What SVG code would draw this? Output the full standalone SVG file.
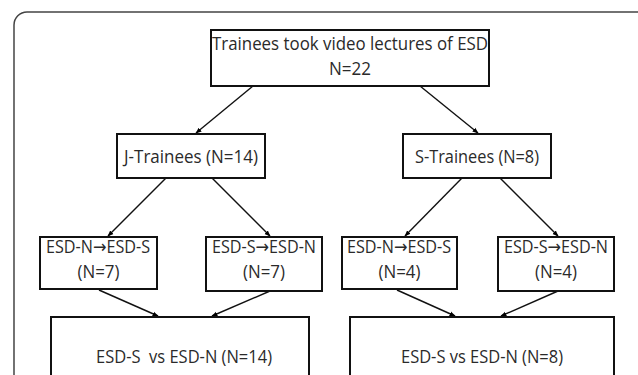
<svg xmlns="http://www.w3.org/2000/svg" width="638" height="375" viewBox="0 0 638 375">
<defs>
<marker id="ah" viewBox="0 0 10 10" refX="9" refY="5" markerWidth="6" markerHeight="6" orient="auto" markerUnits="userSpaceOnUse">
<path d="M0,1 L10,5 L0,9 z" fill="#000"/>
</marker>
<style>
.box{fill:#fff;stroke:#111;stroke-width:2}
.t{font-family:"Open Sans","Noto Sans",sans-serif;font-size:19px;fill:#2a2a2a;text-anchor:middle;white-space:pre}
.s{font-family:"Open Sans","DejaVu Sans",sans-serif;font-size:18px;fill:#2a2a2a;text-anchor:middle}
.c{stroke:#111;stroke-width:1.4;fill:none;marker-end:url(#ah)}
</style>
</defs>
<rect x="0" y="0" width="638" height="375" fill="#fff"/>
<rect x="14" y="12" width="640" height="400" rx="13" fill="none" stroke="#444" stroke-width="1.5"/>
<g id="connectors">
<line class="c" x1="253" y1="86" x2="196" y2="133"/>
<line class="c" x1="420" y1="86" x2="478" y2="133"/>
<line class="c" x1="166" y1="178" x2="108" y2="236"/>
<line class="c" x1="212" y1="178" x2="270" y2="236"/>
<line class="c" x1="462" y1="178" x2="405" y2="236"/>
<line class="c" x1="500" y1="178" x2="558" y2="236"/>
<line class="c" x1="99" y1="290" x2="158" y2="316"/>
<line class="c" x1="270" y1="291" x2="212" y2="316"/>
<line class="c" x1="397" y1="290" x2="455" y2="316"/>
<line class="c" x1="558" y1="291" x2="501" y2="316"/>
</g>
<g id="top">
<rect class="box" x="211" y="30" width="278" height="56"/>
<text class="t" x="350" y="50" textLength="276" lengthAdjust="spacingAndGlyphs">Trainees took video lectures of ESD</text>
<text class="t" x="350" y="75" textLength="42" lengthAdjust="spacingAndGlyphs">N=22</text>
</g>
<g id="jtrainees">
<rect class="box" x="117" y="134" width="148" height="44"/>
<text class="t" x="191" y="163" textLength="134" lengthAdjust="spacingAndGlyphs">J-Trainees (N=14)</text>
</g>
<g id="strainees">
<rect class="box" x="403" y="134" width="148" height="44"/>
<text class="t" x="477" y="163" textLength="124" lengthAdjust="spacingAndGlyphs">S-Trainees (N=8)</text>
</g>
<g id="j-ns">
<rect class="box" x="40" y="237" width="117" height="52"/>
<text class="s" x="98" y="253" textLength="104" lengthAdjust="spacingAndGlyphs">ESD-N→ESD-S</text>
<text class="t" x="98.5" y="278" textLength="42" lengthAdjust="spacingAndGlyphs">(N=7)</text>
</g>
<g id="j-sn">
<rect class="box" x="206" y="237" width="116" height="54"/>
<text class="s" x="264" y="253" textLength="104" lengthAdjust="spacingAndGlyphs">ESD-S→ESD-N</text>
<text class="t" x="264" y="278" textLength="42" lengthAdjust="spacingAndGlyphs">(N=7)</text>
</g>
<g id="s-ns">
<rect class="box" x="342" y="237" width="115" height="52"/>
<text class="s" x="399" y="253" textLength="104" lengthAdjust="spacingAndGlyphs">ESD-N→ESD-S</text>
<text class="t" x="399.5" y="278" textLength="42" lengthAdjust="spacingAndGlyphs">(N=4)</text>
</g>
<g id="s-sn">
<rect class="box" x="498" y="237" width="116" height="54"/>
<text class="s" x="556" y="253" textLength="104" lengthAdjust="spacingAndGlyphs">ESD-S→ESD-N</text>
<text class="t" x="556" y="278" textLength="42" lengthAdjust="spacingAndGlyphs">(N=4)</text>
</g>
<g id="j-compare">
<rect class="box" x="51" y="317" width="258" height="80"/>
<text class="t" x="184" y="363" textLength="176" lengthAdjust="spacingAndGlyphs">ESD-S  vs ESD-N (N=14)</text>
</g>
<g id="s-compare">
<rect class="box" x="350" y="317" width="264" height="80"/>
<text class="t" x="482" y="363" textLength="162" lengthAdjust="spacingAndGlyphs">ESD-S vs ESD-N (N=8)</text>
</g>
</svg>
